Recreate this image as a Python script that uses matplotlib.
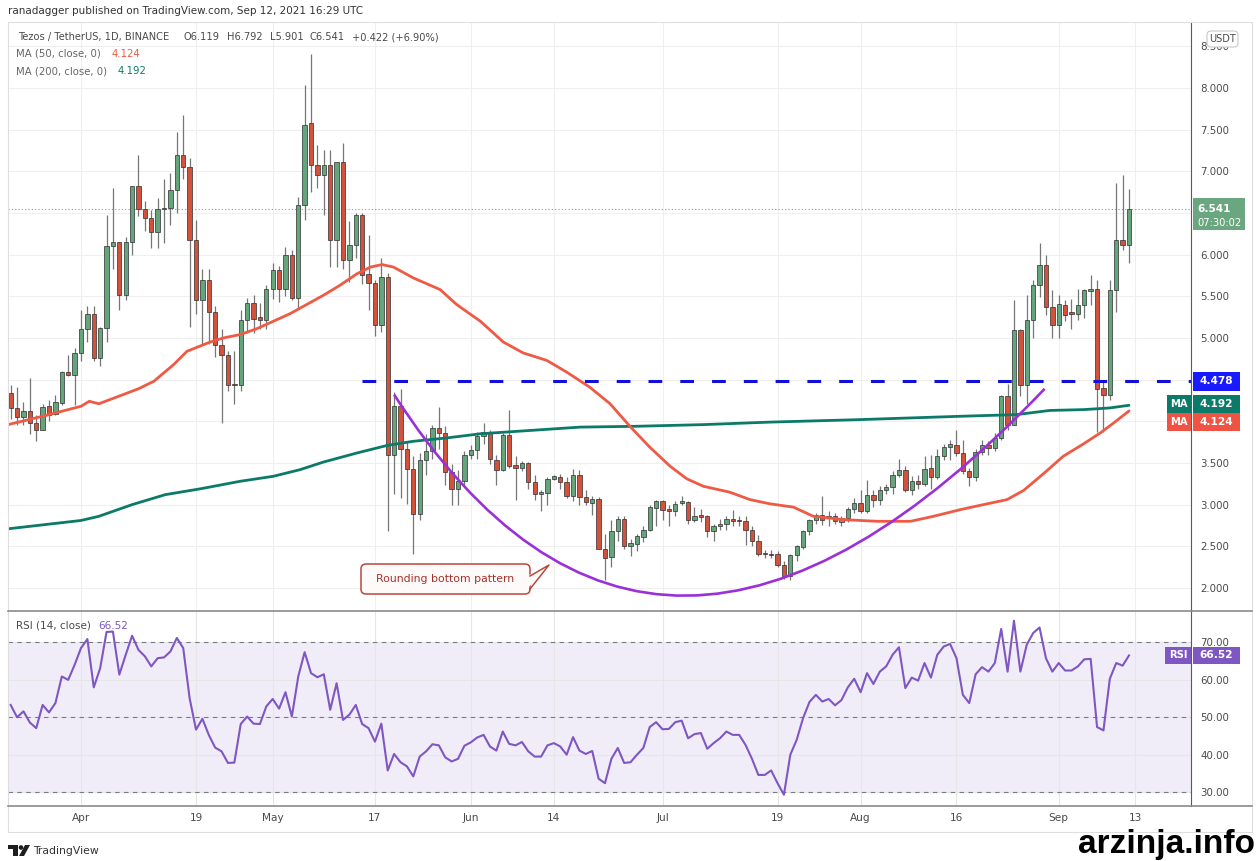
import matplotlib
matplotlib.use("Agg")
import matplotlib.pyplot as plt
import numpy as np
import pandas as pd
from matplotlib.patches import FancyBboxPatch, Polygon, Rectangle, PathPatch, Circle
from matplotlib.path import Path
from matplotlib.lines import Line2D
from matplotlib.transforms import Affine2D

plt.rcParams.update({"font.family": "DejaVu Sans"})

# ---- data ----------------------------------------------------------------------
dates = pd.date_range("2021-03-21", periods=176, freq="D")

opens = [4.34, 4.16, 4.05, 4.12, 3.98, 3.90, 4.18, 4.09, 4.22, 4.59, 4.55,
         4.82, 5.11, 5.29, 4.76, 5.12, 6.10, 6.15, 5.51, 6.15, 6.82,
         6.55, 6.44, 6.27, 6.55, 6.56, 6.77, 7.19, 7.05, 6.17, 5.45,
         5.69, 5.31, 4.91, 4.80, 4.45, 4.43, 5.21, 5.42, 5.25, 5.22,
         5.59, 5.82, 5.59, 6.00, 5.48, 6.59, 7.58, 7.08, 6.96, 7.08,
         6.18, 7.11, 5.93, 6.11, 6.47, 5.77, 5.66, 5.15, 5.73, 3.59,
         4.18, 3.67, 3.43, 2.89, 3.53, 3.64, 3.92, 3.86, 3.39, 3.19,
         3.28, 3.59, 3.66, 3.82, 3.87, 3.54, 3.42, 3.84, 3.47, 3.44,
         3.50, 3.27, 3.13, 3.14, 3.31, 3.33, 3.27, 3.10, 3.36, 3.09,
         3.02, 3.07, 2.47, 2.37, 2.68, 2.83, 2.50, 2.53, 2.61, 2.70,
         2.96, 3.04, 2.95, 2.92, 3.02, 3.03, 2.81, 2.87, 2.86, 2.68,
         2.74, 2.77, 2.83, 2.81, 2.80, 2.70, 2.56, 2.42, 2.41, 2.41,
         2.27, 2.14, 2.40, 2.49, 2.68, 2.81, 2.88, 2.84, 2.86, 2.79,
         2.84, 2.95, 3.02, 2.92, 3.12, 3.05, 3.17, 3.21, 3.35, 3.42,
         3.17, 3.28, 3.25, 3.44, 3.33, 3.58, 3.69, 3.72, 3.62, 3.40,
         3.33, 3.63, 3.72, 3.68, 3.80, 4.30, 3.96, 5.09, 4.43, 5.22,
         5.63, 5.87, 5.37, 5.15, 5.40, 5.31, 5.29, 5.39, 5.56, 5.59,
         4.40, 4.32, 5.58, 6.17, 6.119]
highs = [4.43, 4.41, 4.23, 4.52, 4.07, 4.21, 4.25, 4.32, 4.60, 4.79, 4.88,
         5.33, 5.38, 5.38, 5.13, 6.48, 6.80, 6.15, 6.21, 6.82, 7.20,
         6.64, 6.53, 6.68, 6.91, 6.98, 7.47, 7.68, 7.16, 6.41, 5.83,
         5.83, 5.38, 5.11, 4.84, 4.84, 5.34, 5.48, 5.52, 5.42, 5.63,
         5.90, 5.86, 6.09, 6.05, 6.69, 8.04, 8.41, 7.32, 7.25, 7.25,
         7.11, 7.34, 6.40, 6.50, 6.50, 6.23, 5.69, 5.96, 5.78, 4.35,
         4.39, 3.76, 3.58, 3.62, 3.85, 3.96, 4.17, 3.94, 3.49, 3.42,
         3.64, 3.71, 3.87, 3.98, 3.89, 3.60, 3.86, 4.13, 3.58, 3.52,
         3.51, 3.35, 3.17, 3.33, 3.35, 3.37, 3.33, 3.43, 3.42, 3.17,
         3.10, 3.09, 2.65, 2.81, 2.86, 2.86, 2.59, 2.65, 2.74, 2.99,
         3.05, 3.06, 2.99, 3.04, 3.10, 3.04, 2.97, 2.95, 2.88, 2.77,
         2.83, 2.86, 2.94, 2.86, 2.86, 2.74, 2.63, 2.46, 2.46, 2.44,
         2.32, 2.41, 2.52, 2.69, 2.83, 2.90, 3.10, 2.92, 2.90, 2.86,
         2.97, 3.08, 3.17, 3.30, 3.18, 3.22, 3.25, 3.40, 3.55, 3.46,
         3.34, 3.35, 3.58, 3.60, 3.67, 3.73, 3.78, 3.89, 3.77, 3.44,
         3.67, 3.78, 3.76, 3.86, 4.32, 4.45, 5.45, 5.11, 5.51, 5.69,
         6.14, 5.99, 5.58, 5.51, 5.45, 5.47, 5.59, 5.59, 5.75, 5.69,
         4.50, 5.69, 6.86, 6.95, 6.792]
lows = [4.03, 3.96, 3.96, 3.85, 3.76, 3.89, 4.00, 4.07, 4.20, 4.54, 4.20,
        4.72, 4.95, 4.72, 4.66, 4.95, 5.83, 5.33, 5.45, 5.99, 6.46,
        6.28, 6.08, 6.08, 6.14, 6.35, 6.50, 6.91, 5.13, 5.29, 4.93,
        4.93, 4.77, 3.98, 4.36, 4.21, 4.36, 5.06, 5.06, 5.11, 5.11,
        5.47, 5.43, 5.50, 5.45, 5.36, 6.42, 6.75, 6.80, 6.48, 5.85,
        5.85, 5.83, 5.67, 5.96, 5.65, 5.33, 5.02, 5.07, 2.68, 3.13,
        3.08, 3.01, 2.41, 2.82, 3.35, 3.55, 3.67, 3.24, 2.99, 2.99,
        3.23, 3.55, 3.55, 3.73, 3.49, 3.24, 3.40, 3.44, 3.06, 3.40,
        3.19, 3.06, 2.92, 2.99, 3.30, 3.19, 3.08, 3.04, 2.99, 2.99,
        2.88, 2.47, 2.10, 2.25, 2.56, 2.47, 2.38, 2.44, 2.55, 2.68,
        2.74, 2.81, 2.74, 2.86, 2.99, 2.77, 2.79, 2.79, 2.61, 2.56,
        2.70, 2.70, 2.74, 2.74, 2.52, 2.50, 2.38, 2.36, 2.36, 2.25,
        2.11, 2.10, 2.32, 2.47, 2.64, 2.77, 2.76, 2.74, 2.77, 2.74,
        2.79, 2.90, 2.90, 2.90, 2.97, 2.99, 3.13, 3.13, 3.33, 3.15,
        3.12, 3.19, 3.22, 3.19, 3.31, 3.53, 3.54, 3.58, 3.37, 3.22,
        3.28, 3.60, 3.60, 3.64, 3.78, 3.89, 3.96, 4.30, 4.21, 5.00,
        5.49, 5.27, 5.00, 5.00, 5.20, 5.11, 5.22, 5.24, 5.40, 3.87,
        3.87, 4.25, 5.31, 6.05, 5.901]
closes = [4.16, 4.05, 4.12, 3.98, 3.90, 4.17, 4.08, 4.23, 4.59, 4.55, 4.82,
          5.11, 5.29, 4.76, 5.12, 6.10, 6.15, 5.51, 6.15, 6.82, 6.55,
          6.44, 6.27, 6.55, 6.56, 6.77, 7.19, 7.05, 6.17, 5.45, 5.69,
          5.31, 4.91, 4.80, 4.43, 4.43, 5.21, 5.42, 5.23, 5.22, 5.59,
          5.82, 5.59, 6.00, 5.48, 6.59, 7.56, 7.08, 6.96, 7.08, 6.18,
          7.11, 5.93, 6.11, 6.47, 5.75, 5.66, 5.15, 5.73, 3.59, 4.18,
          3.67, 3.43, 2.89, 3.53, 3.64, 3.92, 3.86, 3.39, 3.19, 3.28,
          3.59, 3.66, 3.82, 3.87, 3.55, 3.42, 3.84, 3.46, 3.44, 3.50,
          3.27, 3.13, 3.15, 3.31, 3.34, 3.27, 3.10, 3.36, 3.09, 3.03,
          3.07, 2.47, 2.36, 2.68, 2.83, 2.50, 2.54, 2.62, 2.70, 2.97,
          3.04, 2.93, 2.92, 3.01, 3.04, 2.82, 2.86, 2.85, 2.68, 2.74,
          2.77, 2.83, 2.80, 2.80, 2.70, 2.56, 2.41, 2.41, 2.40, 2.27,
          2.14, 2.40, 2.50, 2.68, 2.81, 2.88, 2.82, 2.86, 2.80, 2.84,
          2.95, 3.02, 2.92, 3.12, 3.05, 3.17, 3.21, 3.35, 3.42, 3.17,
          3.28, 3.25, 3.43, 3.33, 3.58, 3.69, 3.73, 3.62, 3.40, 3.33,
          3.63, 3.72, 3.68, 3.80, 4.30, 3.96, 5.09, 4.43, 5.22, 5.63,
          5.87, 5.37, 5.15, 5.41, 5.28, 5.29, 5.39, 5.57, 5.59, 4.39,
          4.32, 5.58, 6.17, 6.119, 6.541]

rsi = [53.3, 50.0, 51.6, 48.6, 47.1, 53.3, 51.3, 53.8, 60.9, 60.0, 64.0,
       68.5, 70.9, 58.0, 63.1, 72.8, 72.9, 61.4, 66.7, 71.8, 68.0,
       66.3, 63.6, 65.8, 66.0, 67.6, 71.2, 68.5, 55.1, 46.7, 49.6,
       45.3, 41.9, 40.9, 37.8, 37.9, 48.2, 50.2, 48.3, 48.2, 52.9,
       54.9, 52.3, 56.7, 50.2, 60.9, 67.4, 61.8, 60.7, 61.5, 52.0,
       59.1, 49.3, 50.7, 53.3, 48.2, 47.1, 43.5, 48.3, 35.8, 40.2,
       38.0, 36.9, 34.2, 39.5, 40.9, 42.8, 42.5, 39.3, 38.2, 38.9,
       42.4, 43.3, 44.6, 45.3, 42.2, 41.1, 46.2, 42.9, 42.5, 43.4,
       40.9, 39.5, 39.5, 42.5, 43.1, 42.2, 40.0, 44.7, 41.1, 40.2,
       41.0, 33.6, 32.4, 38.9, 41.8, 37.8, 38.0, 40.0, 41.8, 47.4,
       48.7, 46.8, 46.9, 48.7, 49.1, 44.4, 45.5, 45.8, 41.6, 43.1,
       44.4, 46.2, 45.3, 45.3, 42.6, 38.9, 34.6, 34.6, 35.8, 32.4,
       29.3, 40.0, 44.0, 49.8, 54.1, 56.0, 54.2, 54.9, 53.2, 54.6,
       58.0, 60.3, 56.7, 61.8, 58.9, 62.2, 63.6, 66.7, 68.7, 57.8,
       60.6, 59.8, 64.5, 60.6, 66.7, 68.9, 69.6, 65.8, 56.0, 53.8,
       61.5, 63.4, 62.2, 64.5, 73.6, 62.2, 75.8, 62.2, 69.4, 72.5,
       74.0, 65.8, 62.2, 64.5, 62.5, 62.5, 63.6, 65.5, 65.6, 47.4,
       46.5, 60.3, 64.5, 63.8, 66.52]

# moving averages (days counted from 1 Apr 2021)
ma50_day = [-11.4, -5.5, 0, 1.3, 2.8, 5.9, 9.0, 11.4, 14.5, 16.6, 20.2, 22.3,
            24.9, 27.5, 30.1, 32.7, 35.3, 37.9, 40.5, 43.2, 45.3, 47.1, 48.9,
            52, 56.2, 58.8, 62.5, 66.1, 69.2, 72.9, 76, 79.6, 82.8, 85.9, 89,
            92.2, 94.8, 97.4, 101.5, 104.7, 107.8, 111.5, 114.6, 119.3, 124.6,
            129.8, 133.4, 137.6, 141.2, 144.9, 147.5, 150.6, 153.7, 156.9,
            159.5, 161.6, 164]
ma50 = [3.96, 4.07, 4.18, 4.24, 4.21, 4.30, 4.39, 4.48, 4.68, 4.84, 4.95, 5.00,
        5.04, 5.11, 5.20, 5.29, 5.40, 5.51, 5.63, 5.77, 5.85, 5.88, 5.85,
        5.72, 5.58, 5.40, 5.20, 4.95, 4.82, 4.73, 4.59, 4.41, 4.21, 3.94, 3.69,
        3.46, 3.31, 3.22, 3.15, 3.06, 3.01, 2.97, 2.86, 2.82, 2.80,
        2.80, 2.86, 2.94, 3.00, 3.06, 3.17, 3.37, 3.58, 3.73,
        3.86, 3.98, 4.124]
ma200_day = [-11.4, 0, 2.8, 8, 13.2, 18.7, 24.9, 30.1, 34.3, 37.9, 43.2, 47.9,
             52, 57.2, 62.5, 70.3, 78.1, 86.9, 97.4, 107.8, 121.9, 137.6,
             146.4, 151.6, 156.9, 161, 164]
ma200 = [2.71, 2.81, 2.86, 3.00, 3.12, 3.19, 3.28, 3.34, 3.42, 3.51, 3.62, 3.71,
         3.76, 3.80, 3.85, 3.89, 3.93, 3.94, 3.96, 3.99, 4.02, 4.06,
         4.08, 4.13, 4.14, 4.16, 4.192]

tick_dates = ["2021-04-01", "2021-04-19", "2021-05-01", "2021-05-17",
              "2021-06-01", "2021-06-14", "2021-07-01", "2021-07-19",
              "2021-08-01", "2021-08-16", "2021-09-01", "2021-09-13"]
tick_labels = ["Apr", "19", "May", "17", "Jun", "14", "Jul", "19",
               "Aug", "16", "Sep", "13"]
price_ticks = [2.0, 2.5, 3.0, 3.5, 4.0, 4.5, 5.0, 5.5, 6.0, 6.5, 7.0, 7.5, 8.0, 8.5]
price_tick_labels = ["2.000", "2.500", "3.000", "3.500", "", "", "5.000", "5.500",
                     "6.000", "", "7.000", "7.500", "8.000", "8.500"]
rsi_ticks = [30, 40, 50, 60, 70]

resistance = 4.478
resistance_from = 44          # day where the drawn level starts
arc_pts = [(49, 4.32), (89.7, -0.54), (150.8, 4.39)]   # quadratic curve (start, control, end)

# ---- colours ------------------------------------------------------------------
UP, DN, WICK, EDGE = "#64a57c", "#d2523c", "#767676", "#2e2e2e"
MA50_C, MA200_C = "#ef5a45", "#0c7a68"
RSI_C, BLUE, ARC_C = "#7e57c2", "#1010d8", "#9b30d8"
TXT = "#4a4a4a"

# ---- layout (pixel grid of the 1260x861 image) ---------------------------------
W, H = 1260, 861
L, R, RB = 8, 1191, 1252
T_MAIN, B_MAIN, B_RSI = 22, 611, 806
XMIN, XMAX = -11.42, 173.7
YMIN, YMAX = 1.724, 8.79
RMIN, RMAX = 26.3, 78.4

fig = plt.figure(figsize=(W / 100, H / 100), dpi=100)
pxT = Affine2D().scale(1, -1).translate(0, H)   # pixel coords, origin top-left


def frac(x0, y0, x1, y1):
    return [x0 / W, 1 - y1 / H, (x1 - x0) / W, (y1 - y0) / H]


ax = fig.add_axes(frac(L, T_MAIN, R, B_MAIN))
ar = fig.add_axes(frac(L, B_MAIN, R, B_RSI), sharex=ax)

x = np.asarray((dates - pd.Timestamp("2021-04-01")).days, dtype=float)
o, h, l, c = map(np.asarray, (opens, highs, lows, closes))
tick_x = np.asarray((pd.to_datetime(tick_dates) - pd.Timestamp("2021-04-01")).days)

# ---- price panel ---------------------------------------------------------------
ax.vlines(x, l, h, color=WICK, lw=0.9, zorder=3)
ax.bar(x, np.maximum(np.abs(c - o), 0.012), bottom=np.minimum(o, c), width=0.68,
       color=np.where(c >= o, UP, DN), edgecolor=EDGE, linewidth=0.5, zorder=4)

ax.plot(ma200_day, ma200, color=MA200_C, lw=2.0, zorder=5, solid_capstyle="round")
ax.plot(ma50_day, ma50, color=MA50_C, lw=2.0, zorder=5, solid_capstyle="round")

ax.plot([resistance_from, XMAX], [resistance, resistance], color=BLUE, lw=2.2,
        ls=(0, (4.5, 5.9)), zorder=6)
arc = Path(arc_pts, [Path.MOVETO, Path.CURVE3, Path.CURVE3])
ax.add_patch(PathPatch(arc, fill=False, edgecolor=ARC_C, lw=1.9, zorder=6))
ax.axhline(c[-1], color="#7ea58c", lw=0.8, ls=(0, (1, 2)), zorder=2)

ax.set_xlim(XMIN, XMAX)
ax.set_ylim(YMIN, YMAX)
ax.set_xticks(tick_x)
ax.set_yticks(price_ticks)
ax.set_yticklabels(price_tick_labels)
ax.yaxis.tick_right()
ax.tick_params(axis="x", length=0, labelbottom=False)
ax.tick_params(axis="y", length=0, pad=6.5, labelsize=7.4, labelcolor=TXT)
ax.grid(True, color="#efefef", lw=0.8, zorder=0)
for s in ("left", "top", "bottom"):
    ax.spines[s].set_visible(False)
ax.spines["right"].set_color("#5a5a5a")

# ---- RSI panel -----------------------------------------------------------------
ar.axhspan(30, 70, color=RSI_C, alpha=0.1, lw=0, zorder=1)
for v in (30, 50, 70):
    ar.axhline(v, color="#787b86", lw=0.8, ls=(0, (4, 4)), zorder=2)
ar.plot(x, rsi, color=RSI_C, lw=1.5, zorder=4)
ar.set_ylim(RMIN, RMAX)
ar.set_yticks(rsi_ticks)
ar.set_yticklabels([f"{v:.2f}" for v in rsi_ticks])
ar.yaxis.tick_right()
ar.set_xticks(tick_x)
ar.set_xticklabels(tick_labels)
ar.tick_params(axis="y", length=0, pad=6.5, labelsize=7.4, labelcolor=TXT)
ar.tick_params(axis="x", length=0, pad=5, labelsize=7.6, labelcolor=TXT)
ar.grid(True, color="#e6e6e6", lw=0.8, zorder=0)
for s in ("left", "top", "bottom"):
    ar.spines[s].set_visible(False)
ar.spines["right"].set_color("#5a5a5a")

# ---- frame and separators ------------------------------------------------------
fig.add_artist(Rectangle((L, T_MAIN), RB - L, 832 - T_MAIN, transform=pxT,
                         fill=False, edgecolor="#dedede", lw=0.8))
for yy in (B_MAIN, B_RSI):
    fig.add_artist(Line2D([L, RB], [yy, yy], transform=pxT, color="#8a8a8a", lw=1.2))


def py_price(v):
    return T_MAIN + (YMAX - v) / (YMAX - YMIN) * (B_MAIN - T_MAIN)


def py_rsi(v):
    return B_MAIN + (RMAX - v) / (RMAX - RMIN) * (B_RSI - B_MAIN)


def tag(x0, x1, yc, hgt, color, text, size=7.6):
    fig.add_artist(Rectangle((x0, yc - hgt / 2), x1 - x0, hgt, transform=pxT,
                             facecolor=color, edgecolor="none"))
    fig.text((x0 + x1) / 2, yc, text, transform=pxT, ha="center", va="center",
             color="white", fontsize=size, fontweight="bold")


# right-hand price tags
yc = py_price(c[-1])
fig.add_artist(Rectangle((1193, yc - 11), 52, 32, transform=pxT,
                         facecolor="#6aa67f", edgecolor="none"))
fig.text(1197, yc, f"{c[-1]:.3f}", transform=pxT, ha="left", va="center",
         color="white", fontsize=7.6, fontweight="bold")
fig.text(1197, yc + 14, "07:30:02", transform=pxT, ha="left", va="center",
         color="white", fontsize=7.2)
tag(1193, 1240, py_price(resistance), 19, "#1a1aff", f"{resistance:.3f}")
tag(1193, 1240, 404, 18, MA200_C, f"{ma200[-1]:.3f}")
tag(1167, 1191, 404, 18, MA200_C, "MA", 7.2)
tag(1193, 1240, 422, 18, "#ef5343", f"{ma50[-1]:.3f}")
tag(1167, 1191, 422, 18, "#ef5343", "MA", 7.2)
tag(1193, 1240, py_rsi(rsi[-1]), 17, RSI_C, f"{rsi[-1]:.2f}")
tag(1165, 1191, py_rsi(rsi[-1]), 17, RSI_C, "RSI", 7.2)

fig.add_artist(FancyBboxPatch((1207, 31), 31, 16, transform=pxT,
                              boxstyle="round,pad=0,rounding_size=4",
                              facecolor="white", edgecolor="#c8c8c8", lw=0.8))
fig.text(1222.5, 39, "USDT", transform=pxT, ha="center", va="center",
         color=TXT, fontsize=7)

# ---- callout -------------------------------------------------------------------
CALL_EDGE = "#b9473d"
fig.add_artist(FancyBboxPatch((361, 564), 169, 30, transform=pxT,
                              boxstyle="round,pad=0,rounding_size=5",
                              facecolor="#fffafa", edgecolor=CALL_EDGE, lw=1.1))
fig.add_artist(Polygon([(527, 576), (549, 565), (527, 589)], closed=True,
                       transform=pxT, facecolor="#fffafa", edgecolor="none"))
fig.add_artist(Line2D([530, 549, 530], [576, 565, 589], transform=pxT,
                      color=CALL_EDGE, lw=1.1))
fig.text(445, 579, "Rounding bottom pattern", transform=pxT, ha="center",
         va="center", color="#a3322a", fontsize=7.8)

# ---- header / legends ----------------------------------------------------------
fig.text(8, 11, "ranadagger published on TradingView.com, Sep 12, 2021 16:29 UTC",
         transform=pxT, ha="left", va="center", color="#333333", fontsize=7.5)
legend_bits = [(18, "Tezos / TetherUS, 1D, BINANCE"), (183, "O6.119"),
               (227, "H6.792"), (270, "L5.901"), (309, "C6.541"),
               (352, "+0.422 (+6.90%)")]
for xx, s in legend_bits:
    fig.text(xx, 37, s, transform=pxT, ha="left", va="center", color=TXT,
             fontsize=7.1)
fig.text(16, 54, "MA (50, close, 0)", transform=pxT, ha="left", va="center",
         color="#666666", fontsize=7.3)
fig.text(112, 54, f"{ma50[-1]:.3f}", transform=pxT, ha="left", va="center",
         color=MA50_C, fontsize=7.3)
fig.text(16, 71, "MA (200, close, 0)", transform=pxT, ha="left", va="center",
         color="#666666", fontsize=7.3)
fig.text(118, 71, f"{ma200[-1]:.3f}", transform=pxT, ha="left", va="center",
         color=MA200_C, fontsize=7.3)
fig.text(16, 626, "RSI (14, close)", transform=pxT, ha="left", va="center",
         color=TXT, fontsize=7.5)
fig.text(98, 626, f"{rsi[-1]:.2f}", transform=pxT, ha="left", va="center",
         color=RSI_C, fontsize=7.5)

# ---- footer --------------------------------------------------------------------
LOGO = "#1e1e1e"
fig.add_artist(Rectangle((8, 845), 10, 4, transform=pxT, facecolor=LOGO, edgecolor="none"))
fig.add_artist(Rectangle((13, 845), 4.5, 11, transform=pxT, facecolor=LOGO, edgecolor="none"))
fig.add_artist(Circle((21, 847.5), 2.3, transform=pxT, facecolor=LOGO, edgecolor="none"))
fig.add_artist(Polygon([(25, 845), (30, 845), (24, 856), (19, 856)], closed=True,
                       transform=pxT, facecolor=LOGO, edgecolor="none"))
fig.text(33, 851, "TradingView", transform=pxT, ha="left", va="center",
         color="#333333", fontsize=7.8)
fig.text(1255, 845, "arzinja.info", transform=pxT, ha="right", va="center",
         color="black", fontsize=24, fontweight="bold", family="Liberation Sans")

fig.savefig("out.png", dpi=100)
